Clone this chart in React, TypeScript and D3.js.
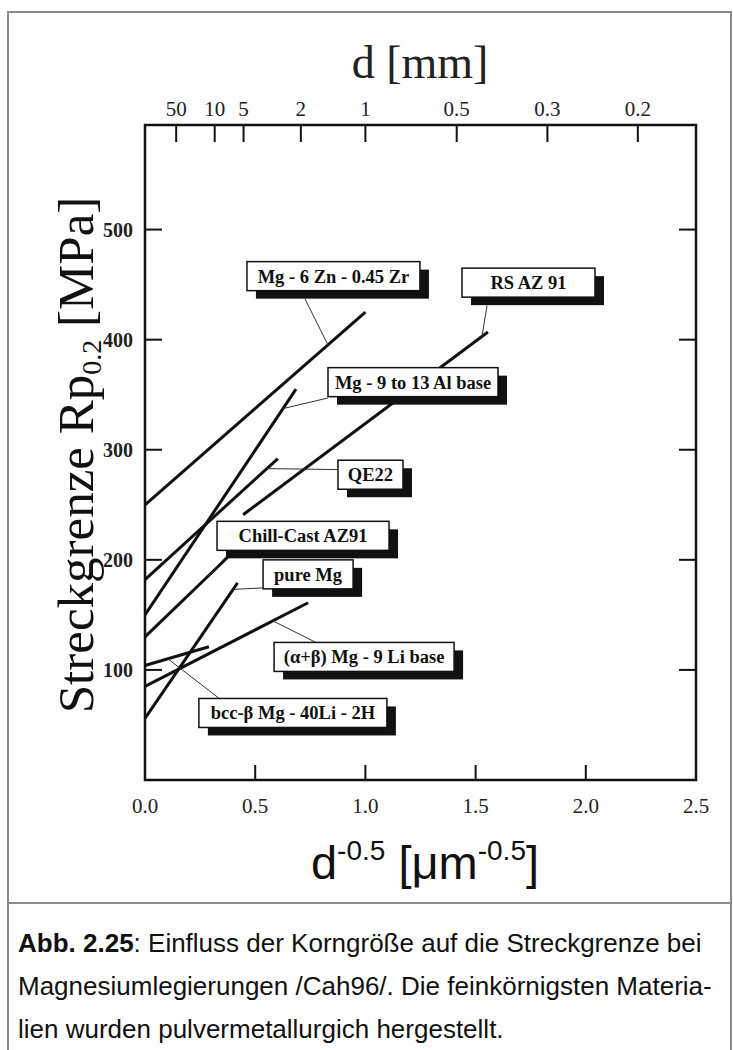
import { useEffect, useRef } from "react";
import * as d3 from "d3";

// Hall-Petch lines (x in d^-0.5, y in MPa)
const seriesNames = [
  "Mg - 6 Zn - 0.45 Zr",
  "RS AZ 91",
  "Mg - 9 to 13 Al base",
  "QE22",
  "Chill-Cast AZ91",
  "pure Mg",
  "(α+β) Mg - 9 Li base",
  "bcc-β Mg - 40Li - 2H",
];
const xStart = [0, 0.445, 0, 0, 0, 0, 0, 0];
const yStart = [250, 241, 150, 182, 130, 56, 85, 104];
const xEnd = [1.0, 1.556, 0.685, 0.603, 0.42, 0.42, 0.74, 0.29];
const yEnd = [425, 407, 355, 292, 211, 179, 161, 121];

// label boxes (centre, data units) and leader lines
const labelX = [0.855, 1.74, 1.216, 1.023, 0.717, 0.74, 0.994, 0.671];
const labelY = [457.7, 451.8, 361.4, 277.3, 221.8, 186.8, 111.8, 60.9];
const leaderFromX = [0.726, 1.552, 0.83, 0.876, 0.386, 0.535, 0.78, 0.34];
const leaderFromY = [437, 431, 347, 282, 207, 174.5, 124.5, 73.6];
const leaderToX = [0.83, 1.529, 0.626, 0.553, 0.286, 0.4, 0.58, 0.104];

const bottomTicks = [0, 0.5, 1.0, 1.5, 2.0, 2.5];
const topTicksMm = [50, 10, 5, 2, 1, 0.5, 0.3, 0.2];
const yTicks = [100, 200, 300, 400, 500];

const captionLines = [
  ": Einfluss der Korngröße auf die Streckgrenze bei",
  "Magnesiumlegierungen /Cah96/. Die feinkörnigsten Materia-",
  "lien wurden pulvermetallurgich hergestellt.",
];

const W = 733;
const H = 1050;
const left = 145,
  right = 696,
  top = 125,
  bottom = 780;
const boxWidths = [173, 133, 170, 65, 172, 90, 180, 188];
const serif = "'Liberation Serif', 'Times New Roman', serif";
const sans = "'Liberation Sans', Arial, sans-serif";

export default function App() {
  const ref = useRef<SVGSVGElement>(null);

  useEffect(() => {
    const svg = d3.select(ref.current);
    svg.selectAll("*").remove();

    const x = d3.scaleLinear().domain([0, 2.5]).range([left, right]);
    const y = d3.scaleLinear().domain([0, 595]).range([bottom, top]);

    // outer gray frame + caption separator
    svg.append("rect").attr("x", 8).attr("y", 12).attr("width", 723).attr("height", 1060)
      .attr("fill", "none").attr("stroke", "#8a8a8a").attr("stroke-width", 2);
    svg.append("line").attr("x1", 8).attr("x2", 731).attr("y1", 903).attr("y2", 903)
      .attr("stroke", "#8a8a8a").attr("stroke-width", 2);

    // plot frame
    svg.append("rect").attr("x", left).attr("y", top)
      .attr("width", right - left).attr("height", bottom - top)
      .attr("fill", "none").attr("stroke", "#111").attr("stroke-width", 2.5);

    const ticks = svg.append("g").attr("stroke", "#111").attr("stroke-width", 2);
    yTicks.forEach((v) => {
      ticks.append("line").attr("x1", left).attr("x2", left + 17).attr("y1", y(v)).attr("y2", y(v));
      ticks.append("line").attr("x1", right).attr("x2", right - 17).attr("y1", y(v)).attr("y2", y(v));
    });
    bottomTicks.slice(1, -1).forEach((v) => {
      ticks.append("line").attr("x1", x(v)).attr("x2", x(v)).attr("y1", bottom).attr("y2", bottom - 15);
    });
    topTicksMm.forEach((d) => {
      const xv = 1 / Math.sqrt(d);
      ticks.append("line").attr("x1", x(xv)).attr("x2", x(xv)).attr("y1", top).attr("y2", top + 17);
    });

    // tick labels
    svg.append("g").selectAll("text").data(yTicks).join("text")
      .attr("x", 133).attr("y", (d) => y(d)).attr("dy", "0.35em")
      .attr("text-anchor", "end").attr("font-family", serif).attr("font-weight", "bold")
      .attr("font-size", 20).attr("fill", "#222").text((d) => d);
    svg.append("g").selectAll("text").data(bottomTicks).join("text")
      .attr("x", (d) => x(d)).attr("y", 813).attr("text-anchor", "middle")
      .attr("font-family", serif).attr("font-size", 21).attr("fill", "#222")
      .text((d) => d3.format(".1f")(d));
    svg.append("g").selectAll("text").data(topTicksMm).join("text")
      .attr("x", (d) => x(1 / Math.sqrt(d))).attr("y", 116).attr("text-anchor", "middle")
      .attr("font-family", serif).attr("font-size", 21).attr("fill", "#222")
      .text((d) => String(d));

    // axis titles
    svg.append("text").attr("x", 420).attr("y", 78).attr("text-anchor", "middle")
      .attr("font-family", serif).attr("font-size", 46).attr("fill", "#222").text("d [mm]");

    const xt = svg.append("text").attr("x", 425).attr("y", 879).attr("text-anchor", "middle")
      .attr("font-family", sans).attr("font-size", 47).attr("fill", "#111");
    xt.append("tspan").text("d");
    xt.append("tspan").attr("font-size", 28).attr("dy", -19).text("-0.5");
    xt.append("tspan").attr("dy", 19).text(" [μm");
    xt.append("tspan").attr("font-size", 28).attr("dy", -19).text("-0.5");
    xt.append("tspan").attr("dy", 19).text("]");

    const yt = svg.append("text").attr("transform", "translate(93,455) rotate(-90)")
      .attr("text-anchor", "middle").attr("font-family", serif).attr("font-size", 51).attr("fill", "#111");
    yt.append("tspan").text("Streckgrenze Rp");
    yt.append("tspan").attr("font-size", 28).attr("dy", 8).text("0.2");
    yt.append("tspan").attr("dy", -8).text(" [MPa]");

    // series lines
    const lineGen = d3.line<[number, number]>().x((d) => x(d[0])).y((d) => y(d[1]));
    svg.append("g").selectAll("path").data(seriesNames.map((_, i) => i)).join("path")
      .attr("d", (i) => lineGen([[xStart[i], yStart[i]], [xEnd[i], yEnd[i]]]))
      .attr("fill", "none").attr("stroke", "#111").attr("stroke-width", 3);

    // leader lines
    const onLine = (i: number, xv: number) =>
      d3.scaleLinear().domain([xStart[i], xEnd[i]]).range([yStart[i], yEnd[i]])(xv);
    svg.append("g").selectAll("line").data(seriesNames.map((_, i) => i)).join("line")
      .attr("x1", (i) => x(leaderFromX[i])).attr("y1", (i) => y(leaderFromY[i]))
      .attr("x2", (i) => x(leaderToX[i])).attr("y2", (i) => y(onLine(i, leaderToX[i])))
      .attr("stroke", "#333").attr("stroke-width", 1);

    // label boxes with drop shadow
    const boxH = 29;
    seriesNames.forEach((name, i) => {
      const g = svg.append("g");
      const bw = boxWidths[i];
      const bx = x(labelX[i]) - bw / 2;
      const by = y(labelY[i]) - boxH / 2;
      g.append("rect").attr("x", bx + 9).attr("y", by + 8).attr("width", bw).attr("height", boxH).attr("fill", "#111");
      g.append("rect").attr("x", bx).attr("y", by).attr("width", bw).attr("height", boxH)
        .attr("fill", "#fff").attr("stroke", "#111").attr("stroke-width", 1.5);
      g.append("text").attr("x", x(labelX[i])).attr("y", y(labelY[i])).attr("dy", "0.35em")
        .attr("text-anchor", "middle").attr("font-family", serif).attr("font-weight", "bold")
        .attr("font-size", 18.5).attr("fill", "#111").text(name);
    });

    // caption
    const cap = svg.append("g").attr("font-family", sans).attr("font-size", 26).attr("fill", "#111");
    const l1 = cap.append("text").attr("x", 18).attr("y", 952);
    l1.append("tspan").attr("font-weight", "bold").text("Abb. 2.25");
    l1.append("tspan").text(captionLines[0]);
    cap.append("text").attr("x", 18).attr("y", 995).text(captionLines[1]);
    cap.append("text").attr("x", 18).attr("y", 1038).text(captionLines[2]);
  }, []);

  return (
    <svg
      ref={ref}
      width={W}
      height={H}
      style={{ position: "absolute", left: 0, top: 0, background: "#fff" }}
    />
  );
}
